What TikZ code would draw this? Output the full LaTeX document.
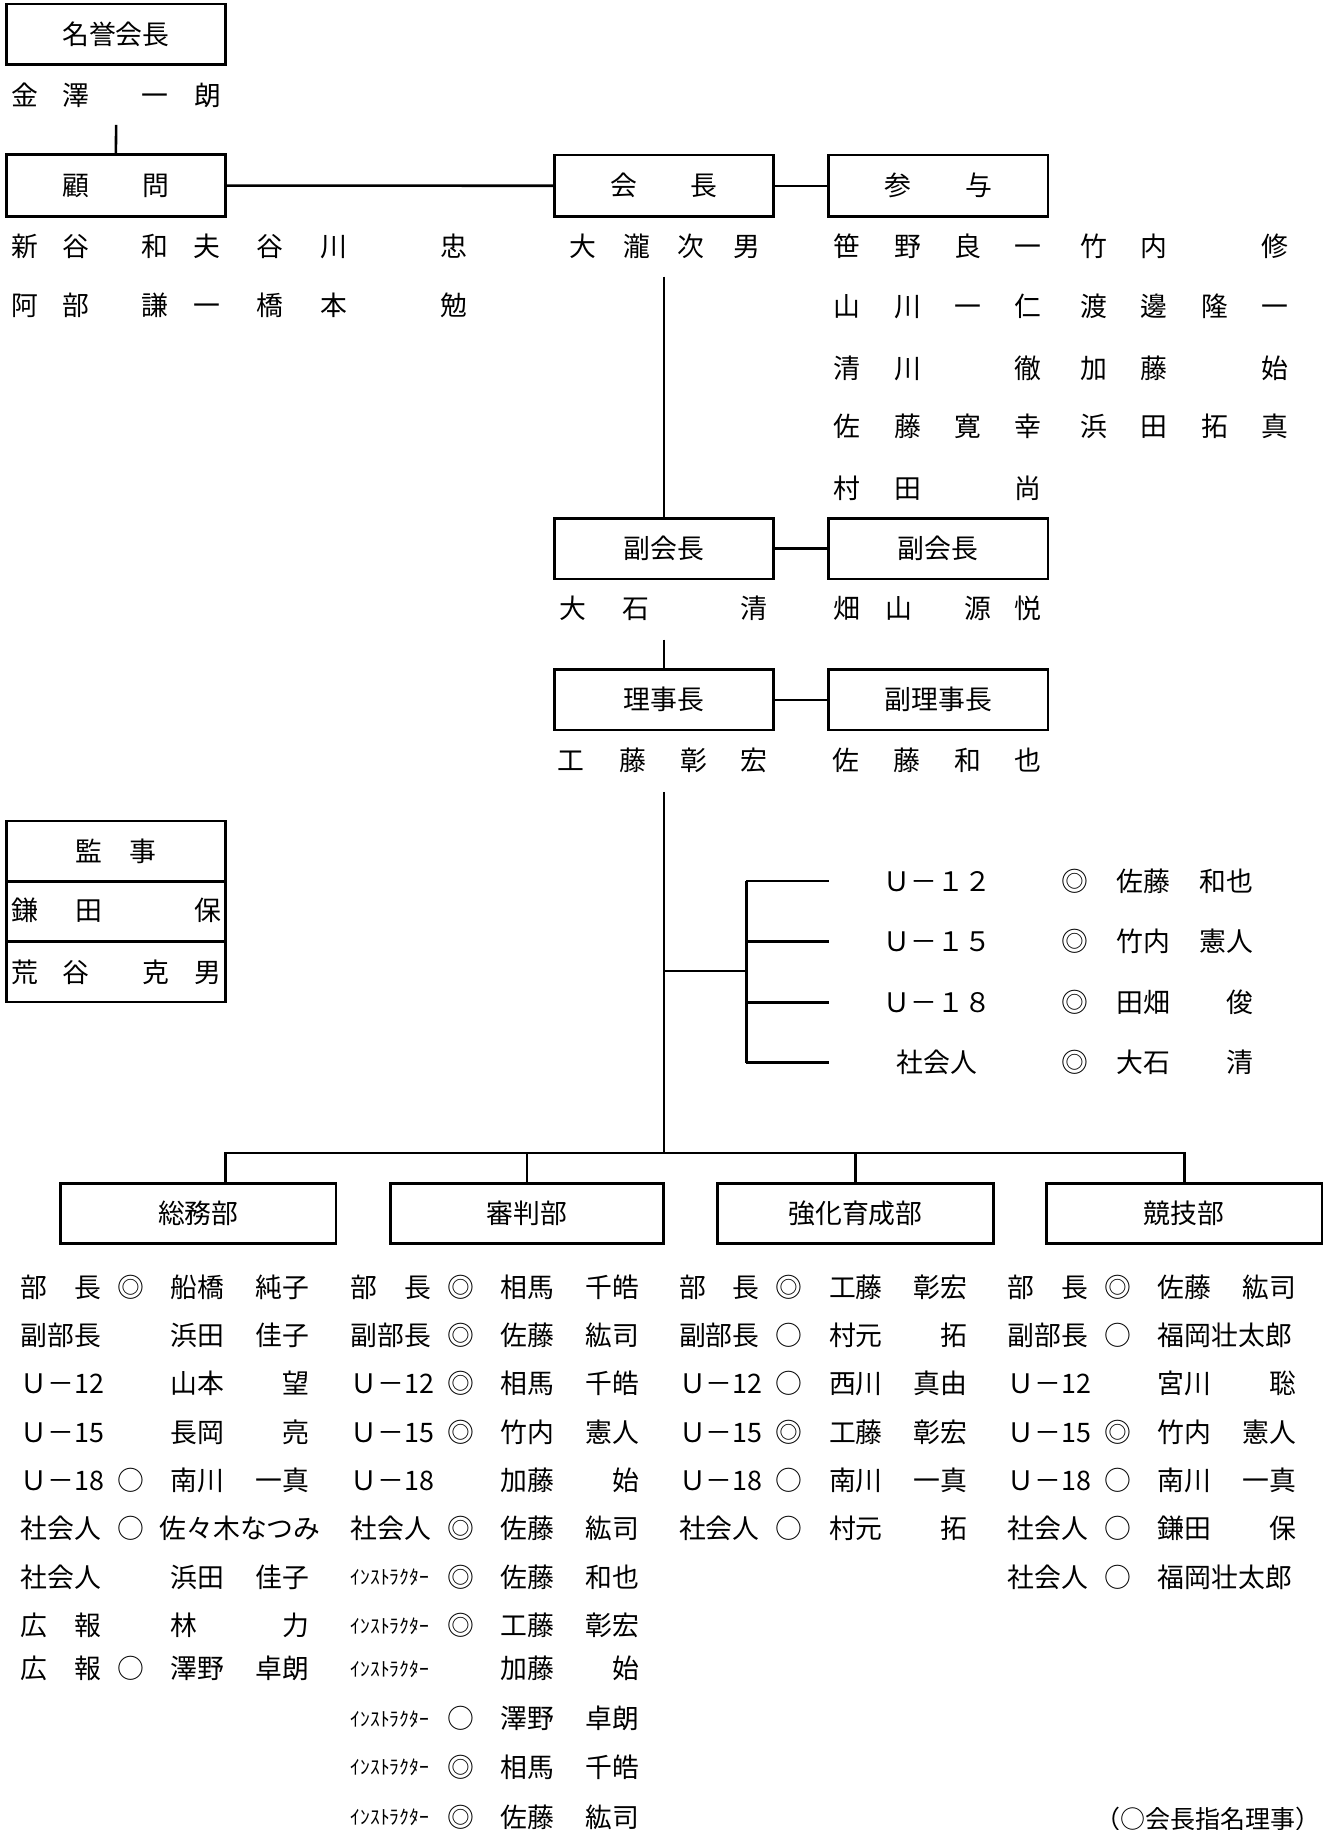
\documentclass[tikz,border=0pt]{standalone}
\usepackage{fontspec}
\setmainfont{Noto Sans CJK JP}
\usepackage{tikz}

\newcommand{\jpfont}{\fontsize{11.5pt}{14pt}\selectfont}
\newcommand{\kanafont}{\fontsize{8.4pt}{10pt}\selectfont}
\newcommand{\notefont}{\fontsize{10.7pt}{13pt}\selectfont}
\newcommand{\instr}{\raisebox{1.1pt}{\kanafont ｲﾝｽﾄﾗｸﾀｰ}}
% one name spread over single characters
\newcommand{\namerow}[3]{\foreach \ch/\x [count=\i] in {#3} {\node (#1-\i) at (\x,#2) {\ch};}}
% role / mark / name list under a department
\newcommand{\deptlist}[3]{%
  \foreach \role/\mk/\who/\y [count=\i] in {#3} {
    \node[anchor=west] (#1-role\i) at (#2,\y) {\role};
    \node (#1-mark\i) at ({#2+94.5},\y) {\mk};
    \node[anchor=west] (#1-name\i) at ({#2+128.5},\y) {\makebox[59.25pt][s]{\who}};
  }}

\begin{document}
\begin{tikzpicture}[x=0.5pt,y=-0.5pt,
    every node/.style={inner sep=0pt, font=\jpfont, text height=10.1pt, text depth=1.4pt},
    box/.style={draw, line width=1.15pt, minimum width=94pt, minimum height=26pt},
    deptbox/.style={box, minimum width=118pt, minimum height=25.8pt},
    conn/.style={line width=1.1pt}]
    \useasboundingbox (0,0) rectangle (1139,1568);

    % boxes
    \node[box, minimum height=25.9pt] (meiyo) at (99.3,29.3) {名誉会長};
    \node[box, minimum height=26.7pt] (komon) at (99.3,159) {顧　　問};
    \node[box, minimum height=26.5pt] (kaicho) at (569,159.2) {会　　長};
    \node[box, minimum height=26.5pt] (sanyo) at (803.9,159.2) {参　　与};
    \node[box] (fukukaicho) at (569,470.2) {副会長};
    \node[box] (fukukaicho2) at (803.9,470.2) {副会長};
    \node[box] (riji) at (569,599.6) {理事長};
    \node[box] (fukuriji) at (803.9,599.6) {副理事長};

    \node[box, minimum height=25.8pt] (kanji) at (99.5,729.2) {監　事};
    \node[box] (kanji-a) at (99.5,781) {};
    \node[box, minimum height=25.75pt] (kanji-b) at (99.5,832.7) {};

    \node[deptbox] (somu) at (170,1039.8) {総務部};
    \node[deptbox, minimum width=117pt] (shinpan) at (451.5,1039.8) {審判部};
    \node[deptbox] (kyoka) at (733,1039.8) {強化育成部};
    \node[deptbox] (kyogi) at (1014.7,1039.8) {競技部};

    % names
    \namerow{meiyoname}{82}{金/21,澤/65,一/133,朗/178}
    \namerow{komonA}{211.4}{新/21,谷/65,和/133,夫/177,谷/231,川/286,忠/389}
    \namerow{komonB}{261.6}{阿/21,部/65,謙/133,一/177,橋/231,本/286,勉/389}
    \namerow{kaichoname}{211.4}{大/499.5,瀧/545.6,次/592,男/639.6}
    \namerow{sanyoA}{211.4}{笹/726,野/777.6,良/829.5,一/881,竹/937,内/989,修/1092.6}
    \namerow{sanyoB}{262.8}{山/726,川/777.6,一/829.5,仁/881,渡/937,邊/989,隆/1040.6,一/1092.6}
    \namerow{sanyoC}{315.4}{清/726,川/777.6,徹/881,加/937,藤/989,始/1092.6}
    \namerow{sanyoD}{365.7}{佐/726,藤/777.6,寛/829.5,幸/881,浜/937,田/989,拓/1040.6,真/1092.6}
    \namerow{sanyoE}{418.4}{村/726,田/777.6,尚/881}
    \namerow{fukuA}{521.4}{大/490.8,石/544.8,清/646}
    \namerow{fukuB}{521.4}{畑/726,山/770,源/838,悦/881}
    \namerow{rijiname}{651.4}{工/489.6,藤/542.6,彰/594.4,宏/646}
    \namerow{fukurijiname}{651.4}{佐/725,藤/776.8,和/829.5,也/881}
    \namerow{kanjiA}{780}{鎌/21,田/75.8,保/178}
    \namerow{kanjiB}{832.8}{荒/21,谷/65,克/133.2,男/178}

    % connectors
    \coordinate (meiyo-tail) at (99.5,107);
    \draw[conn] (meiyo-tail) -- (komon.north);
    \draw[conn] (komon) -- (kaicho);
    \draw[conn] (kaicho) -- (sanyo);
    \coordinate (kaicho-tail) at (569,237);
    \draw[conn] (kaicho-tail) -- (fukukaicho.north);
    \draw[conn] (fukukaicho) -- (fukukaicho2);
    \coordinate (fuku-tail) at (569,548);
    \draw[conn] (fuku-tail) -- (riji.north);
    \draw[conn] (riji) -- (fukuriji);
    \coordinate (riji-tail) at (569,678.5);
    \coordinate (bus) at (569,988);
    \coordinate (bus-w) at (193,988);
    \coordinate (brk) at (639.5,832);
    \draw[conn] (riji-tail) -- (bus);
    \draw[conn] (riji-tail |- brk) -- (brk);
    \draw[conn] (bus-w |- somu.north) -- (bus-w) -- (bus -| kyogi.north) -- (kyogi.north);
    \draw[conn] (shinpan.north) -- (bus -| shinpan.north);
    \draw[conn] (kyoka.north) -- (bus -| kyoka.north);

    % age groups
    \foreach \grp/\who/\y [count=\i] in {Ｕ－１２/{佐藤\hfill 和也}/755, Ｕ－１５/{竹内\hfill 憲人}/806.5,
        Ｕ－１８/{田畑\hfill 俊}/859, 社会人/{大石\hfill 清}/910.5} {
        \coordinate (tick\i) at (710,\y);
        \draw[conn] (tick\i -| brk) -- (tick\i);
        \node (grp\i) at (803,\y) {\grp};
        \node (grpmark\i) at (921.4,\y) {◎};
        \node[anchor=west] (grpname\i) at (956.4,\y) {\makebox[58.65pt][s]{\who}};
    }
    \draw[conn] (tick1 -| brk) -- (tick4 -| brk);

    % departments
    \deptlist{somu}{17.5}{
        {部　長}/◎/{船橋\hfill 純子}/1103,
        副部長/{}/{浜田\hfill 佳子}/1144.2,
        Ｕ－12/{}/{山本\hfill 望}/1185.6,
        Ｕ－15/{}/{長岡\hfill 亮}/1227,
        Ｕ－18/○/{南川\hfill 一真}/1268.4,
        社会人/○/{\hss 佐々木なつみ\hss}/1309.9,
        社会人/{}/{浜田\hfill 佳子}/1351.3,
        {広　報}/{}/{林\hfill 力}/1392.7,
        {広　報}/○/{澤野\hfill 卓朗}/1429.8}
    \deptlist{shinpan}{300}{
        {部　長}/◎/{相馬\hfill 千皓}/1103,
        副部長/◎/{佐藤\hfill 紘司}/1144.2,
        Ｕ－12/◎/{相馬\hfill 千皓}/1185.6,
        Ｕ－15/◎/{竹内\hfill 憲人}/1227,
        Ｕ－18/{}/{加藤\hfill 始}/1268.4,
        社会人/◎/{佐藤\hfill 紘司}/1309.9,
        \instr/◎/{佐藤\hfill 和也}/1351.3,
        \instr/◎/{工藤\hfill 彰宏}/1392.7,
        \instr/{}/{加藤\hfill 始}/1429.8,
        \instr/○/{澤野\hfill 卓朗}/1472.7,
        \instr/◎/{相馬\hfill 千皓}/1514.1,
        \instr/◎/{佐藤\hfill 紘司}/1557}
    \deptlist{kyoka}{581.5}{
        {部　長}/◎/{工藤\hfill 彰宏}/1103,
        副部長/○/{村元\hfill 拓}/1144.2,
        Ｕ－12/○/{西川\hfill 真由}/1185.6,
        Ｕ－15/◎/{工藤\hfill 彰宏}/1227,
        Ｕ－18/○/{南川\hfill 一真}/1268.4,
        社会人/○/{村元\hfill 拓}/1309.9}
    \deptlist{kyogi}{863}{
        {部　長}/◎/{佐藤\hfill 紘司}/1103,
        副部長/○/{福岡壮太郎\hfill}/1144.2,
        Ｕ－12/{}/{宮川\hfill 聡}/1185.6,
        Ｕ－15/◎/{竹内\hfill 憲人}/1227,
        Ｕ－18/○/{南川\hfill 一真}/1268.4,
        社会人/○/{鎌田\hfill 保}/1309.9,
        社会人/○/{福岡壮太郎\hfill}/1351.3}

    \node[anchor=east, font=\notefont] (note) at (1132,1557.8) {（○会長指名理事）};
\end{tikzpicture}
\end{document}
